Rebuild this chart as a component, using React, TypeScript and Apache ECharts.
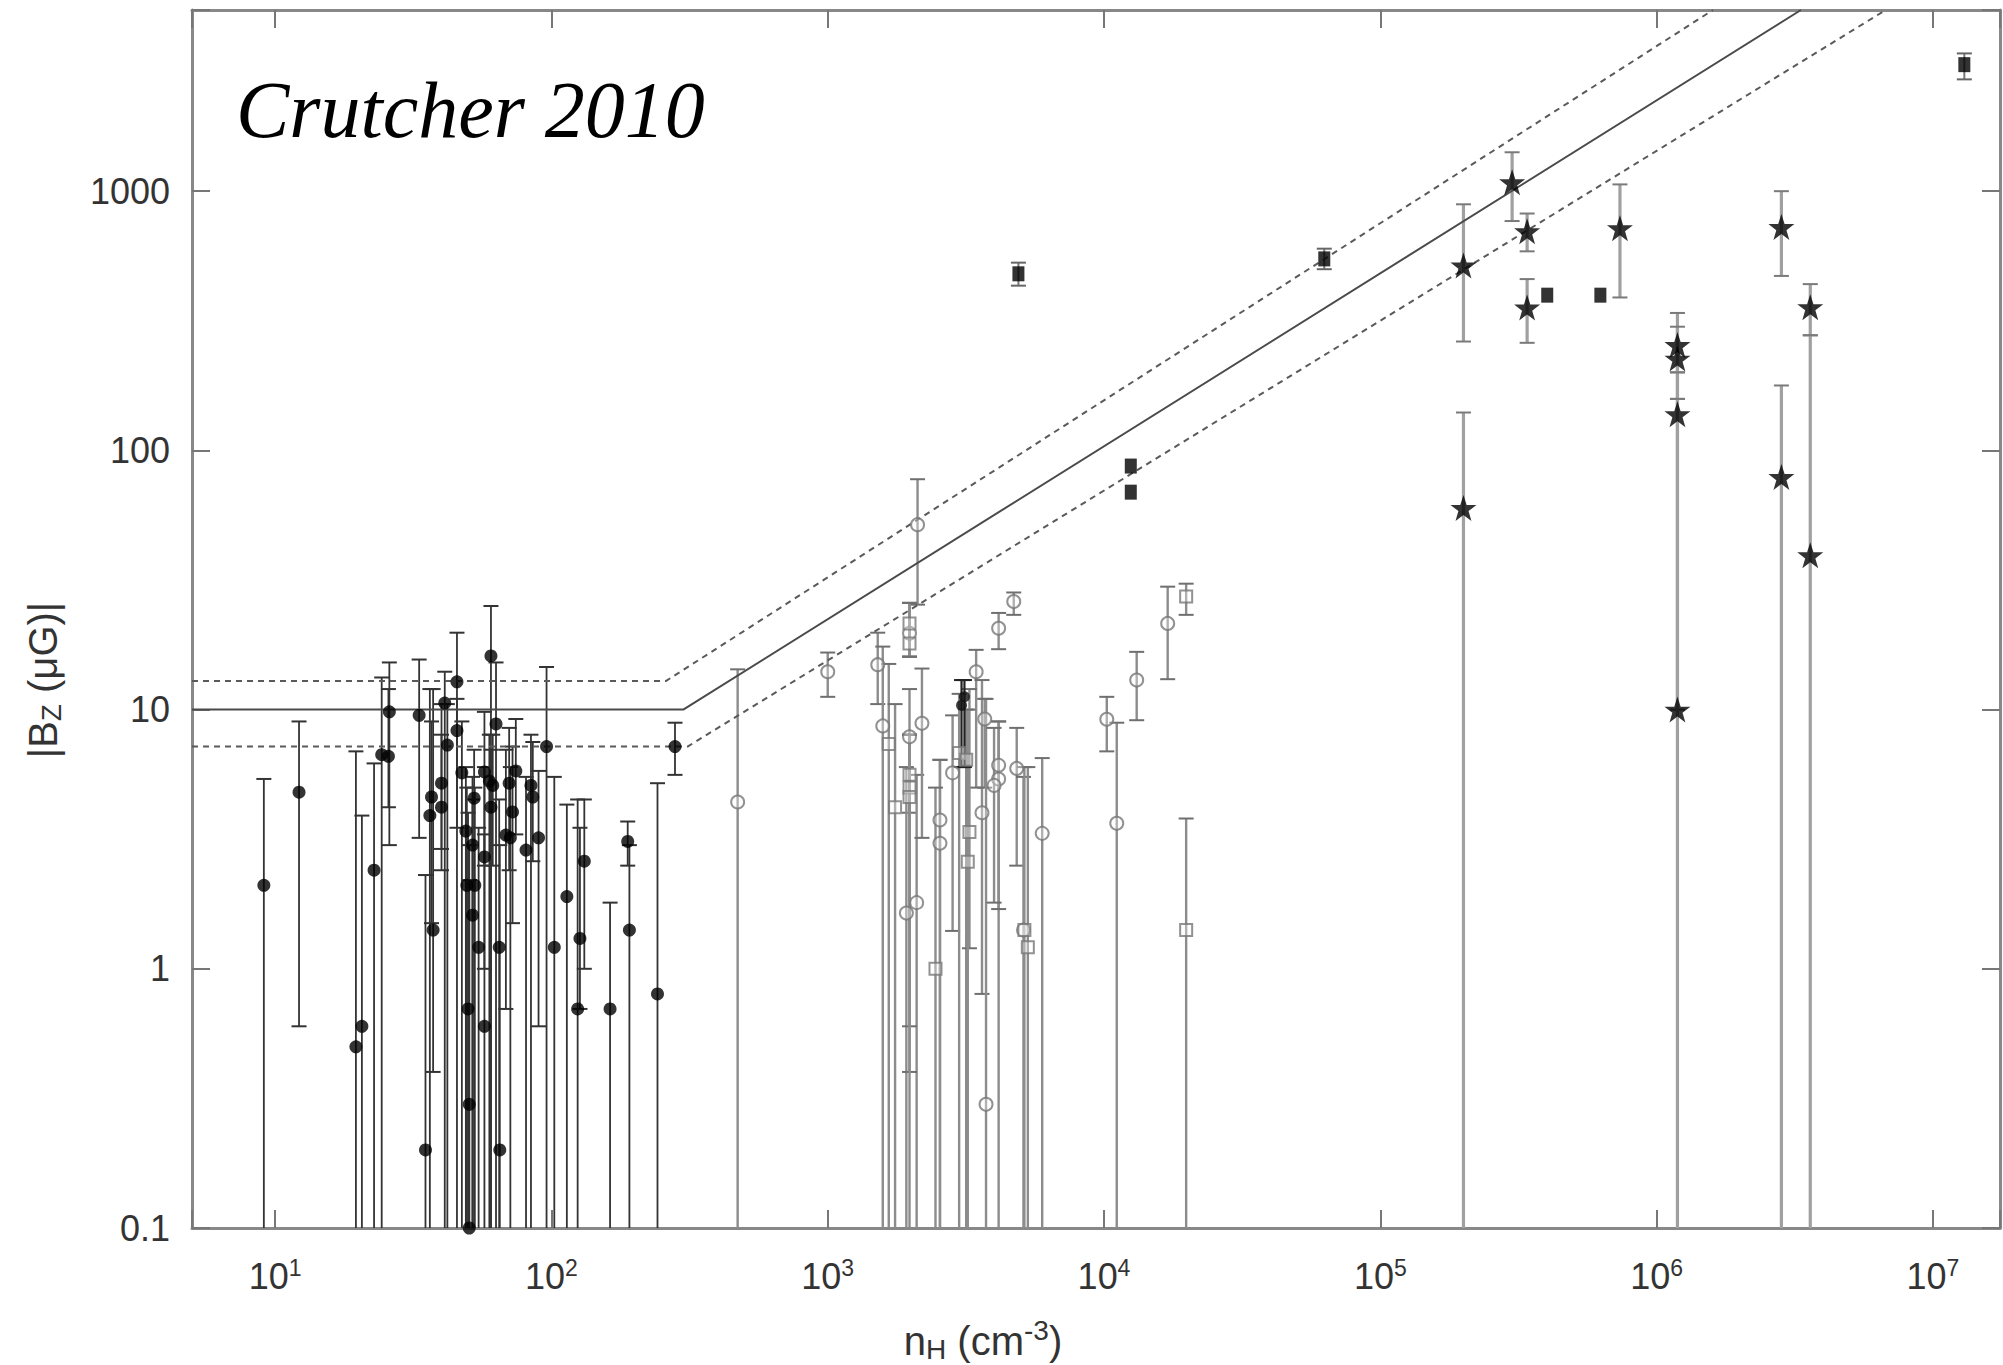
import React, { useEffect, useRef } from 'react';
import * as echarts from 'echarts';

// ---------- axis ticks ----------
const xTickExponents = [1, 2, 3, 4, 5, 6, 7];
const yTickLabels = ['0.1', '1', '10', '100', '1000'];
const xMin = 5;
const xMax = 1.75e7;
const yMin = 0.1;
const yMax = 5000;

// error-bar lower end of 0 means the bar runs off the bottom of the plot
// ---------- HI Zeeman (filled circles) ----------
const hiDensity = [9.1, 12.2, 19.6, 20.6, 22.8, 24.3, 25.7, 25.9, 33.2, 35.0, 36.3, 36.8, 37.3, 40.0, 40.0, 41.1, 42.0, 45.5, 45.5, 47.4, 49.0, 49.4, 49.9, 50.4, 50.4, 51.8, 51.8, 52.5, 52.8, 54.5, 57.2, 57.2, 57.2, 59.6, 60.4, 60.4, 61.3, 63.0, 64.7, 65.0, 68.4, 70.3, 71.0, 72.3, 74.3, 80.9, 84.3, 85.6, 89.8, 96.0, 102.4, 113.7, 124.4, 126.8, 131.5, 163, 188.8, 191.5, 242, 280];
const hiField = [2.1, 4.8, 0.5, 0.6, 2.4, 6.7, 6.6, 9.8, 9.5, 0.2, 3.9, 4.6, 1.41, 5.2, 4.2, 10.6, 7.3, 12.8, 8.3, 5.7, 3.4, 2.1, 0.7, 0.3, 0.1, 3.0, 1.61, 4.55, 2.1, 1.21, 2.7, 5.75, 0.6, 5.3, 4.2, 16.1, 5.1, 8.8, 1.21, 0.2, 3.28, 5.2, 3.2, 4.03, 5.8, 2.87, 5.1, 4.6, 3.2, 7.2, 1.21, 1.9, 0.7, 1.31, 2.6, 0.7, 3.1, 1.41, 0.8, 7.2];
const hiLow = [0, 0.6, 0, 0, 0, 0, 4.2, 3.0, 3.2, 0, 0, 1.5, 0.4, 2.9, 2.4, 0, 0, 3.5, 0, 0, 0, 0, 0, 0, 0, 0, 0, 0, 0, 0, 1.0, 2.5, 0, 0, 0, 0, 2.5, 0, 0, 0, 0.7, 2.4, 0, 1.5, 3.3, 0, 0, 2.6, 0.6, 0, 0, 0, 0, 0.7, 1.0, 0, 2.5, 0, 0, 5.6];
const hiHigh = [5.4, 9.0, 6.9, 3.9, 6.2, 13.3, 12, 15.2, 15.6, 2.3, 12, 9.0, 12, 10.5, 8.0, 14, 10.5, 19.8, 11, 9.0, 6.0, 5.0, 4.0, 3.0, 2.2, 5.5, 4.5, 7.0, 5.0, 3.5, 6.0, 9.8, 3.3, 8.0, 7.0, 25.1, 8.0, 15.2, 4.5, 3.0, 7.0, 8.5, 6.0, 7.2, 9.2, 5.5, 8.0, 7.5, 5.8, 14.6, 5.5, 4.3, 4.5, 3.5, 4.5, 1.8, 3.7, 3.0, 5.2, 8.9];

// ---------- OH Zeeman (open circles) ----------
const ohCircleDensity = [472, 1000, 1517, 1582, 1977, 1977, 1926, 2098, 2114, 2193, 2548, 2548, 2831, 3445, 3617, 3700, 3741, 4155, 4713, 4155, 4155, 4000, 4831, 5111, 5974, 10233, 11120, 13130, 17000];
const ohCircleField = [4.4, 14.0, 14.9, 8.65, 19.7, 7.85, 1.64, 1.8, 51.7, 8.85, 3.75, 3.05, 5.7, 14.0, 4.0, 9.2, 0.3, 20.6, 26.1, 6.1, 5.4, 5.1, 5.93, 1.41, 3.33, 9.18, 3.64, 13.0, 21.5];
const ohCircleLow = [0, 11.2, 10.5, 0, 16, 4.0, 0, 0, 25.4, 3.2, 0, 0, 1.4, 5.0, 0.8, 5.0, 0, 17.1, 23.2, 0, 1.7, 1.8, 2.5, 0, 0, 6.9, 0, 9.1, 13.1];
const ohCircleHigh = [14.3, 16.6, 19.8, 17.5, 25.8, 12, 6.0, 5.6, 77.4, 14.4, 6.4, 6.4, 9.5, 17, 13, 11, 11, 23.6, 28.3, 9.0, 9.0, 8.5, 8.5, 5.5, 6.5, 11.2, 8.9, 16.7, 29.8];

// ---------- OH Zeeman (open squares) ----------
const ohSquareDensity = [1663, 1753, 1977, 1977, 1977, 1977, 1977, 2455, 2990, 3171, 3258, 3213, 5150, 5300, 19830, 19830];
const ohSquareField = [7.36, 4.2, 21.5, 18.0, 5.6, 5.0, 4.6, 1.0, 6.8, 6.4, 3.37, 2.59, 1.41, 1.21, 27.3, 1.41];
const ohSquareLow = [0, 0, 16, 16, 0.6, 0.4, 0, 0, 0, 0, 1.2, 0, 0, 0, 23.2, 0];
const ohSquareHigh = [15, 10.5, 25.8, 25.8, 8.0, 8.0, 8.0, 5.0, 11.5, 10, 12, 10, 6.0, 6.0, 30.6, 3.8];

// ---------- dark filled points near 3e3 ----------
const darkDensity = [3125, 3050];
const darkField = [11.2, 10.4];
const darkLow = [6, 6];
const darkHigh = [13, 13];

// ---------- CN Zeeman (stars) ----------
const cnDensity = [2.0e5, 2.0e5, 3.0e5, 3.4e5, 3.4e5, 7.37e5, 1.19e6, 1.19e6, 1.19e6, 1.19e6, 2.83e6, 2.83e6, 3.6e6, 3.6e6];
const cnField = [517, 60, 1083, 700, 356, 720, 255, 226, 138, 10, 728, 79, 357, 39.4];
const cnLow = [263, 0, 767, 586, 260, 389, 200, 158, 10, 0, 471, 0, 278, 0];
const cnHigh = [890, 140, 1413, 820, 458, 1062, 339, 300, 200, 158, 1000, 178, 438, 278];

// ---------- other filled squares ----------
const sqDensity = [4900, 12500, 12500, 62700, 4.02e5, 6.26e5, 1.3e7];
const sqField = [480, 87, 69, 548, 397, 397, 3077];
const sqLow = [432, 87, 69, 500, 397, 397, 2700];
const sqHigh = [530, 87, 69, 600, 397, 397, 3400];

// ---------- model lines ----------
const solidN = [5, 300, 3.33e6];
const solidB = [10, 10, 5000];
const upperN = [5, 260, 1.6e6];
const upperB = [12.9, 12.9, 5000];
const lowerN = [5, 311, 6.75e6];
const lowerB = [7.2, 7.2, 5000];

const FLOOR = 1e-3;
const FONT = '"Liberation Sans", Arial, Helvetica, sans-serif';
const TEXT = '#333';
const STAR = 'path://M50,0 L61.8,35.1 L98.1,35.1 L68.8,56.7 L79.4,90.9 L50,70 L20.6,90.9 L31.2,56.7 L1.9,35.1 L38.2,35.1 Z';

const pts = (n: number[], b: number[]) => n.map((v, i) => [v, b[i]]);
const bars = (n: number[], lo: number[], hi: number[]) =>
  n.map((v, i) => [v, lo[i] > 0 ? lo[i] : FLOOR, hi[i]]);

function errorBarSeries(name: string, data: number[][], color: string, width: number, capColor: string, z: number) {
  return {
    name,
    type: 'custom',
    xAxisIndex: 0,
    yAxisIndex: 0,
    clip: true,
    z,
    silent: true,
    data,
    renderItem: (params: any, api: any) => {
      const x = api.value(0);
      const lo = api.value(1);
      const hi = api.value(2);
      const cs = params.coordSys;
      const top = api.coord([x, hi]);
      const bot = api.coord([x, lo]);
      const yTop = Math.max(top[1], cs.y);
      const yBot = Math.min(bot[1], cs.y + cs.height);
      const half = 7.5;
      const children: any[] = [];
      if (hi !== lo) {
        children.push({ type: 'line', shape: { x1: top[0], y1: yTop, x2: top[0], y2: yBot }, style: { stroke: color, lineWidth: width } });
        children.push({ type: 'line', shape: { x1: top[0] - half, y1: top[1], x2: top[0] + half, y2: top[1] }, style: { stroke: capColor, lineWidth: 2 } });
        if (lo > FLOOR * 1.01) {
          children.push({ type: 'line', shape: { x1: bot[0] - half, y1: bot[1], x2: bot[0] + half, y2: bot[1] }, style: { stroke: capColor, lineWidth: 2 } });
        }
      }
      return { type: 'group', children };
    },
  };
}

function lineSeries(n: number[], b: number[], dashed: boolean) {
  return {
    type: 'line',
    xAxisIndex: 0,
    yAxisIndex: 0,
    data: pts(n, b),
    symbol: 'none',
    silent: true,
    z: 6,
    lineStyle: { color: dashed ? '#5a5a5a' : '#4a4a4a', width: 2, type: dashed ? [6, 5] : 'solid' },
  };
}

const isPow = (v: number) => {
  const e = Math.log10(v);
  const r = Math.round(e);
  return Math.abs(e - r) < 1e-6 ? r : null;
};

const tickStyle = { show: true, inside: true, length: 18, lineStyle: { color: '#777', width: 2 } };
const axisLine = { show: true, lineStyle: { color: '#888', width: 3 } };

export default function App() {
  const ref = useRef<HTMLDivElement>(null);
  useEffect(() => {
    if (!ref.current) return;
    const chart = echarts.init(ref.current, undefined, { renderer: 'svg' });
    const option: any = {
      animation: false,
      backgroundColor: '#fff',
      grid: { left: 192, right: 3, top: 10, bottom: 137, containLabel: false, outerBoundsMode: 'none' },
      xAxis: [
        {
          type: 'log', logBase: 10, min: xMin, max: xMax, position: 'bottom',
          axisLine, axisTick: tickStyle, splitLine: { show: false }, minorTick: { show: false },
          axisLabel: {
            show: true, margin: 28,
            formatter: (v: number) => {
              const r = isPow(v);
              if (r === null || !xTickExponents.includes(r)) return '';
              return `{b|10}{s|${r}}`;
            },
            rich: {
              b: { fontSize: 36, fontFamily: FONT, color: TEXT },
              s: { fontSize: 23, fontFamily: FONT, color: TEXT, padding: [0, 0, 18, 0] },
            },
          },
        },
        {
          type: 'log', logBase: 10, min: xMin, max: xMax, position: 'top',
          axisLine, axisTick: tickStyle, axisLabel: { show: false }, splitLine: { show: false },
        },
      ],
      yAxis: [
        {
          type: 'log', logBase: 10, min: yMin, max: yMax, position: 'left',
          axisLine, axisTick: tickStyle, splitLine: { show: false }, minorTick: { show: false },
          axisLabel: {
            show: true, margin: 22, fontSize: 36, fontFamily: FONT, color: TEXT,
            formatter: (v: number) => {
              const r = isPow(v);
              if (r === null) return '';
              return yTickLabels[r + 1] ?? '';
            },
          },
        },
        {
          type: 'log', logBase: 10, min: yMin, max: yMax, position: 'right',
          axisLine, axisTick: tickStyle, axisLabel: { show: false }, splitLine: { show: false },
        },
      ],
      graphic: [
        {
          type: 'text', x: 236, y: 110, z: 100,
          style: { text: 'Crutcher 2010', font: 'italic 80px "Liberation Serif", "Times New Roman", serif', fill: '#000', align: 'left', verticalAlign: 'middle' },
        },
        {
          type: 'text', x: 983, y: 1341, z: 100,
          style: {
            text: '{a|n}{h|H}{a| (cm}{p|-3}{a|)}',
            align: 'center', verticalAlign: 'middle',
            rich: {
              a: { fontSize: 40, fontFamily: FONT, fill: TEXT },
              h: { fontSize: 28, fontFamily: FONT, fill: TEXT, padding: [16, 0, 0, 0] },
              p: { fontSize: 28, fontFamily: FONT, fill: TEXT, padding: [0, 0, 22, 0] },
            },
          },
        },
        {
          type: 'text', x: 43, y: 680, rotation: Math.PI / 2, z: 100,
          style: {
            text: '{a||B}{z|Z}{a| (μG)|}',
            align: 'center', verticalAlign: 'middle',
            rich: {
              a: { fontSize: 40, fontFamily: FONT, fill: TEXT },
              z: { fontSize: 28, fontFamily: FONT, fill: TEXT, padding: [16, 0, 0, 0] },
            },
          },
        },
      ],
      series: [
        errorBarSeries('OH circle bars', bars(ohCircleDensity, ohCircleLow, ohCircleHigh), '#8c8c8c', 2.4, '#6f6f6f', 1),
        errorBarSeries('OH square bars', bars(ohSquareDensity, ohSquareLow, ohSquareHigh), '#8c8c8c', 2.4, '#6f6f6f', 1),
        errorBarSeries('CN bars', bars(cnDensity, cnLow, cnHigh), '#a0a0a0', 3.2, '#7a7a7a', 1),
        errorBarSeries('HI bars', bars(hiDensity, hiLow, hiHigh), '#333', 1.8, '#333', 2),
        errorBarSeries('dark bars', bars(darkDensity, darkLow, darkHigh), '#222', 2.2, '#222', 2),
        errorBarSeries('square bars', bars(sqDensity, sqLow, sqHigh), '#777', 2, '#666', 2),
        lineSeries(solidN, solidB, false),
        lineSeries(upperN, upperB, true),
        lineSeries(lowerN, lowerB, true),
        {
          name: 'OH circles', type: 'scatter', xAxisIndex: 0, yAxisIndex: 0, z: 7,
          symbol: 'circle', symbolSize: 13, data: pts(ohCircleDensity, ohCircleField),
          itemStyle: { color: 'rgba(255,255,255,0.4)', borderColor: '#777', borderWidth: 2 },
        },
        {
          name: 'OH squares', type: 'scatter', xAxisIndex: 0, yAxisIndex: 0, z: 7,
          symbol: 'rect', symbolSize: 12, data: pts(ohSquareDensity, ohSquareField),
          itemStyle: { color: 'rgba(255,255,255,0.4)', borderColor: '#777', borderWidth: 2 },
        },
        {
          name: 'HI', type: 'scatter', xAxisIndex: 0, yAxisIndex: 0, z: 8,
          symbol: 'circle', symbolSize: 13, data: pts(hiDensity, hiField),
          itemStyle: { color: '#000' },
        },
        {
          name: 'dark', type: 'scatter', xAxisIndex: 0, yAxisIndex: 0, z: 8,
          symbol: 'circle', symbolSize: 11, data: pts(darkDensity, darkField),
          itemStyle: { color: '#111' },
        },
        {
          name: 'CN', type: 'scatter', xAxisIndex: 0, yAxisIndex: 0, z: 9,
          symbol: STAR, symbolSize: 26, data: pts(cnDensity, cnField),
          itemStyle: { color: '#000' },
        },
        {
          name: 'squares', type: 'scatter', xAxisIndex: 0, yAxisIndex: 0, z: 9,
          symbol: 'rect', symbolSize: [12, 15], data: pts(sqDensity, sqField),
          itemStyle: { color: '#000' },
        },
      ],
    };
    chart.setOption(option);
    return () => chart.dispose();
  }, []);
  return (
    <div
      ref={ref}
      style={{ position: 'absolute', left: 0, top: 0, width: 2003, height: 1365, background: '#fff' }}
    />
  );
}
